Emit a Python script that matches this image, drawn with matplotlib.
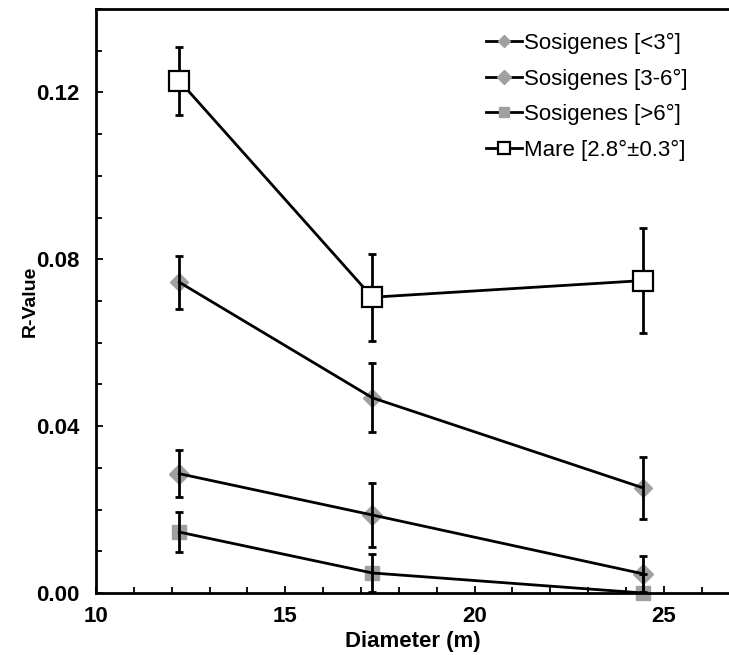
import matplotlib
matplotlib.use("Agg")
import matplotlib.pyplot as plt
from matplotlib.ticker import MultipleLocator, FormatStrFormatter

plt.rcParams['font.family'] = ['Liberation Sans', 'DejaVu Sans']

diameter = [12.2, 17.3, 24.45]

sos_lt3 = [0.0745, 0.0468, 0.0252]
sos_lt3_err = [0.0064, 0.0083, 0.0074]

sos_3to6 = [0.0286, 0.0187, 0.0046]
sos_3to6_err = [0.0056, 0.0077, 0.0043]

sos_gt6 = [0.0146, 0.0048, 0.0]
sos_gt6_err = [0.0048, 0.0046, 0.0046]

mare = [0.1228, 0.0709, 0.0749]
mare_err = [0.0081, 0.0104, 0.0126]

labels = ["Sosigenes [<3°]", "Sosigenes [3-6°]", "Sosigenes [>6°]", "Mare [2.8°±0.3°]"]

fig = plt.figure(figsize=(7.29, 6.55), dpi=100)
ax = fig.add_axes([96/729, 62/655, 1 - 96/729 + 0.002, (593 - 9)/655])

grey = '#a0a0a0'
ekw = dict(color='black', elinewidth=2.0, capsize=3, capthick=2.0, lw=2.0, zorder=3)

series = [
    (sos_lt3, sos_lt3_err, dict(marker='D', ms=9, mfc=grey, mec=grey)),
    (sos_3to6, sos_3to6_err, dict(marker='D', ms=10, mfc=grey, mec=grey)),
    (sos_gt6, sos_gt6_err, dict(marker='s', ms=10, mfc=grey, mec=grey)),
    (mare, mare_err, dict(marker='s', ms=14, mfc='white', mec='black', mew=1.6)),
]
legend_ms = [6, 7, 7, 9]

handles = []
for (vals, errs, mk), lab, lms in zip(series, labels, legend_ms):
    ax.plot(diameter, vals, linestyle='none', clip_on=False,
            zorder=2 if mk['mfc'] == grey else 4, **mk)
    ax.errorbar(diameter, vals, yerr=errs, fmt='-', **ekw)
    hk = dict(mk)
    hk['ms'] = lms
    h, = ax.plot([], [], color='black', lw=2.0, **hk)
    handles.append(h)

ax.set_xlim(10, 26.76)
ax.set_ylim(0, 0.14)
ax.xaxis.set_major_locator(MultipleLocator(5))
ax.xaxis.set_minor_locator(MultipleLocator(1))
ax.yaxis.set_major_locator(MultipleLocator(0.04))
ax.yaxis.set_minor_locator(MultipleLocator(0.01))
ax.yaxis.set_major_formatter(FormatStrFormatter('%.2f'))

ax.tick_params(which='both', direction='in', width=1.3, labelsize=16)
ax.tick_params(which='major', length=5)
ax.tick_params(which='minor', length=4)
ax.tick_params(axis='x', pad=9)
ax.tick_params(axis='y', pad=12)
for lbl in ax.get_xticklabels() + ax.get_yticklabels():
    lbl.set_fontweight('bold')

for s in ['left', 'bottom', 'top']:
    ax.spines[s].set_linewidth(2.0)
ax.spines['right'].set_visible(False)

ax.set_xlabel('Diameter (m)', fontsize=16, fontweight='bold', labelpad=3)
ax.set_ylabel('R-Value', fontsize=14, fontweight='bold', labelpad=-2)

fig.legend(handles, labels, loc='upper left', bbox_to_anchor=(486/729, 1 - 33/655),
           frameon=False, fontsize=16, handlelength=1.6, handletextpad=0.1,
           labelspacing=0.65, borderpad=0, borderaxespad=0)

fig.savefig('out.png', dpi=100)
